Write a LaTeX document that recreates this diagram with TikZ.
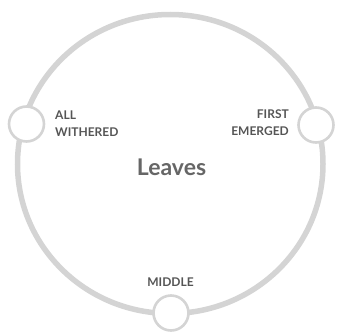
\documentclass[tikz,border=0pt]{standalone}
\usepackage{fontspec}
\setmainfont{Lato}
\usetikzlibrary{shapes.geometric}
\definecolor{ringgray}{HTML}{D4D4D4}
\definecolor{labelgray}{HTML}{555555}
\definecolor{titlegray}{HTML}{666666}
\tikzset{
  ring/.style={draw=ringgray, line width=5.5pt, ellipse, inner sep=0pt,
    minimum width=305.5pt, minimum height=299pt},
  dot/.style={draw=ringgray, line width=2.6pt, fill=white, circle, inner sep=0pt,
    minimum size=35pt},
  lbl/.style={text=labelgray, inner sep=0pt,
    font=\fontsize{12}{17.4}\selectfont\bfseries},
  title/.style={text=titlegray, inner sep=0pt,
    font=\fontsize{23}{27}\selectfont\bfseries}
}
\begin{document}
\begin{tikzpicture}[x=1pt,y=-1pt]
\useasboundingbox (0,0) rectangle (337,332);
\node[ring] (ring) at (170.25,164) {};
\node[dot] (withered) at (26.5,124) {};
\node[dot] (emerged) at (316,125) {};
\node[dot] (middle) at (171,313) {};
\node[title, anchor=base] (leaves) at (171.5,175) {Leaves};
\node[lbl, anchor=north west, align=left] (allw) at (55,110.6) {ALL\\WITHERED};
\node[lbl, anchor=north east, align=right] (firste) at (289,109.6) {FIRST\\EMERGED};
\node[lbl, anchor=base] (mid) at (170.5,286.7) {MIDDLE};
\end{tikzpicture}
\end{document}
